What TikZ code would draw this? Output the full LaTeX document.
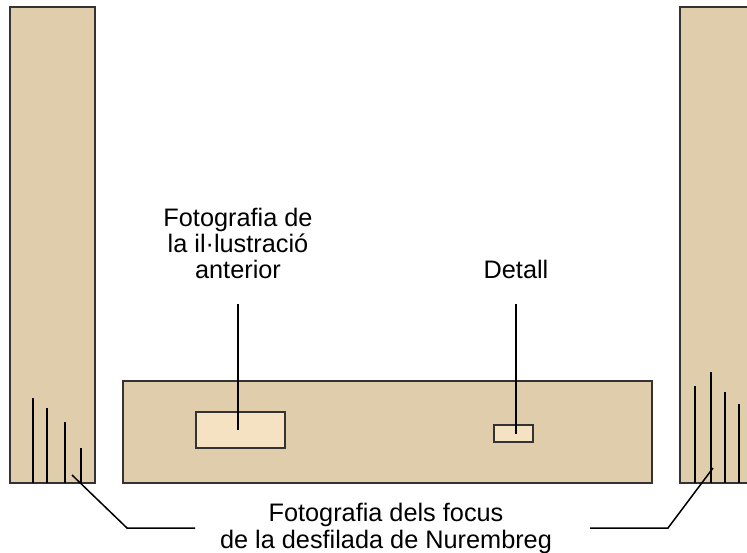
\documentclass[tikz,border=0pt]{standalone}
\usepackage{fontspec}
\setmainfont{Liberation Sans}
\usepackage{tikz}
\definecolor{woodtan}{HTML}{E0CDAB}
\definecolor{woodlight}{HTML}{F5E2C3}
\definecolor{edgegray}{HTML}{333333}
\tikzstyle{panel} = [draw=edgegray, fill=woodtan, line width=1.5pt,
    rectangle, inner sep=0pt]
\tikzstyle{photo} = [draw=edgegray, fill=woodlight, line width=1.5pt,
    rectangle, inner sep=0pt]
\tikzstyle{label} = [align=center, inner sep=0pt,
    font=\fontsize{25.3}{26.3}\selectfont]
\tikzstyle{leader} = [draw=black, line width=1.5pt]

\begin{document}
\begin{tikzpicture}[x=1pt,y=-1pt]
                \useasboundingbox (0,0) rectangle (747,553);
                \clip (0,0) rectangle (747,553);
                % side panels and the long panel
                \node [panel, minimum width=85, minimum height=476] (leftpanel) at (52.5,245) {};
                \node [panel, minimum width=80, minimum height=476] (rightpanel) at (720,245) {};
                \node [panel, minimum width=529, minimum height=102] (longpanel) at (387.5,432) {};
                \node [photo, minimum width=89, minimum height=36] (photo) at (240.5,430) {};
                \node [photo, minimum width=39, minimum height=17] (detail) at (513.5,433.5) {};
                % light beams
                \foreach \x/\y in {33/398, 47/408, 65/422, 81/448}
                    \draw [leader] (\x,\y) -- (\x,483);
                \foreach \x/\y in {695/386, 711/372, 725/392, 739/404}
                    \draw [leader] (\x,\y) -- (\x,483);
                % labels (base = last line)
                \node [label, anchor=base] (photolabel) at (238,279) {Fotografia de\\la il·lustració\\anterior};
                \node [label, anchor=base] (detaillabel) at (516,279) {Detall};
                \node [label, anchor=base] (focuslabel) at (386,548) {Fotografia dels focus\\de la desfilada de Nurembreg};
                \coordinate (photoleg) at (238,304);
                \coordinate (detailleg) at (516,304);
                \coordinate (beamsL) at (72,475);
                \coordinate (beamsR) at (713,468);
                \coordinate (legL) at (195,528);
                \coordinate (legR) at (590,528);
                \draw [leader] (photoleg) -- (photoleg |- photo.center);
                \draw [leader] (detailleg) -- (detailleg |- detail.center);
                \draw [leader] (beamsL) -- (127,528) -- (legL);
                \draw [leader] (legR) -- (668,528) -- (beamsR);
            \end{tikzpicture}
\end{document}
